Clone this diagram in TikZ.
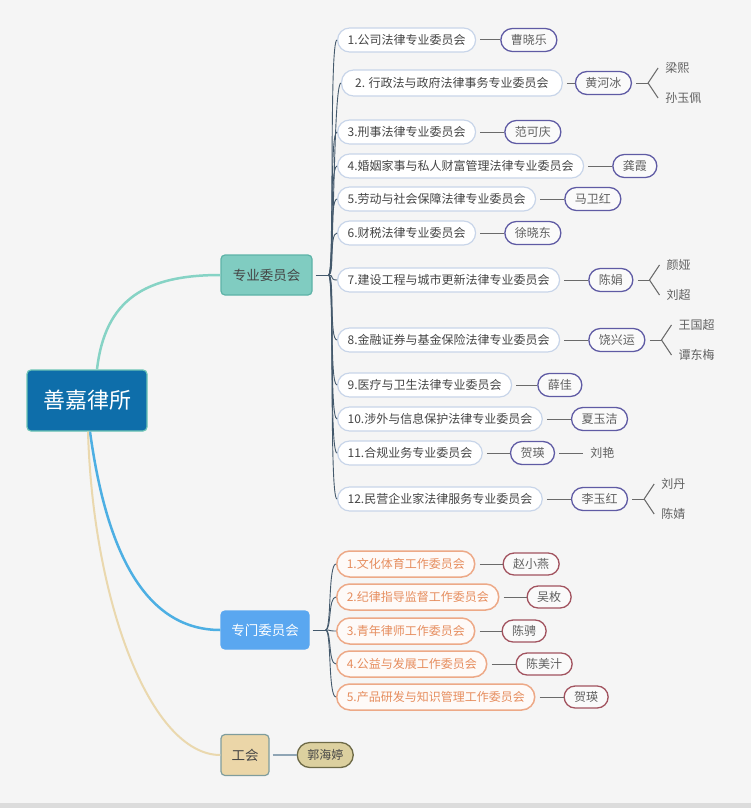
\documentclass[tikz,border=0pt]{standalone}
\usepackage{fontspec}
\setmainfont{Noto Sans CJK SC}
\usetikzlibrary{positioning, calc}
\definecolor{bgcol}{HTML}{F5F5F5}
\definecolor{stripcol}{HTML}{DCDCDC}
\definecolor{rootfill}{HTML}{0E6EAA}
\definecolor{rootedge}{HTML}{6CC4B5}
\definecolor{zyfill}{HTML}{80CCC1}
\definecolor{zyedge}{HTML}{5DB3A7}
\definecolor{zmfill}{HTML}{5AA7F0}
\definecolor{ghfill}{HTML}{EBD6A8}
\definecolor{ghedge}{HTML}{7F9D9D}
\definecolor{ghtfill}{HTML}{DCD09F}
\definecolor{ghtedge}{HTML}{6E6A47}
\definecolor{txt}{HTML}{454545}
\definecolor{comedge}{HTML}{C8D5E9}
\definecolor{peredge}{HTML}{5F5BA4}
\definecolor{orgedge}{HTML}{EDA987}
\definecolor{orgtext}{HTML}{E68D5E}
\definecolor{orgper}{HTML}{A2535F}
\definecolor{fanline}{HTML}{44596C}
\definecolor{linkline}{HTML}{6A6A6A}
\definecolor{ghline}{HTML}{8FA5B5}
\definecolor{tealline}{HTML}{86D3C5}
\definecolor{blueline}{HTML}{4DAFE3}
\definecolor{tanline}{HTML}{EAD8AE}
\tikzset{
	node distance = 28pt,
	root/.style = {
		rounded corners = 4pt,
		minimum width = 120pt,
		minimum height = 61pt,
		draw = rootedge,
		fill = rootfill,
		line width = 1.2pt,
		text = white,
		font = \fontsize{22}{26}\selectfont
	},
	major/.style = {
		rounded corners = 4pt,
		minimum height = 40pt,
		line width = 1.2pt,
		inner xsep = 4pt,
		text = txt,
		font = \fontsize{13.5}{16}\selectfont
	},
	committee/.style = {
		rounded corners = 12pt,
		minimum height = 24pt,
		inner xsep = 10pt,
		inner ysep = 0pt,
		draw = comedge,
		fill = white,
		line width = 1.2pt,
		text = txt,
		font = \fontsize{12}{14}\selectfont
	},
	person/.style = {
		rounded corners = 11.5pt,
		minimum height = 23pt,
		inner xsep = 10pt,
		inner ysep = 0pt,
		draw = peredge,
		fill = bgcol!50!white,
		line width = 1.3pt,
		text = txt!85!white,
		font = \fontsize{12}{14}\selectfont
	},
	wgroup/.style = {
		committee,
		rounded corners = 13pt,
		minimum height = 26pt,
		draw = orgedge,
		fill = orgedge!6!white,
		line width = 1.5pt,
		text = orgtext
	},
	wperson/.style = {
		person,
		rounded corners = 11pt,
		minimum height = 22pt,
		draw = orgper
	},
	leaf/.style = {
		inner xsep = 7pt,
		inner ysep = 1pt,
		text = txt!85!white,
		font = \fontsize{12}{14}\selectfont
	},
	fan/.style = {draw = fanline, line width = 0.9pt},
	link/.style = {draw = linkline, line width = 1pt, shorten <= 4pt}
}

\begin{document}
\begin{tikzpicture}[x=1pt, y=-1pt]
	\fill[bgcol] (0,0) rectangle (751,808);
	\fill[stripcol] (0,803) rectangle (751,808);
	\useasboundingbox (0,0) rectangle (751,808);

	\node[root] (R) at (87,400.5) {善嘉律所};
	\node[major, fill=zyfill, draw=zyedge, minimum width=91pt] (ZY) at (266.5,275) {专业委员会};
	\node[major, fill=zmfill, draw=zmfill, text=white, minimum width=88pt, minimum height=38pt] (ZM) at (265,630) {专门委员会};
	\node[major, fill=ghfill, draw=ghedge, minimum width=48pt, minimum height=41pt] (GH) at (245,755) {工会};
	\node[person, fill=ghtfill, draw=ghtedge, text=txt, minimum height=25pt, rounded corners=12.5pt, right=27pt of GH] (GHT) {郭海婷};

	\draw[tealline, line width=2.5pt] ([xshift=10pt]R.north) .. controls +(8,-70) and +(-75,0) .. (ZY.west);
	\draw[blueline, line width=2.5pt] ([xshift=3pt]R.south) .. controls +(15,110) and +(-80,0) .. (ZM.west);
	\draw[tanline, line width=2pt] ([xshift=1pt]R.south) .. controls +(5,170) and +(-70,0) .. (GH.west);
	\draw[ghline, line width=1.5pt, shorten <=3pt] (GH) -- (GHT);

	% professional committees
	\node[committee, anchor=west] (c1) at (337,40) {1.公司法律专业委员会};
	\node[committee, anchor=west, inner xsep=13.5pt, minimum height=26pt] (c2) at (341,83) {2. 行政法与政府法律事务专业委员会};
	\node[committee, anchor=west] (c3) at (337,132) {3.刑事法律专业委员会};
	\node[committee, anchor=west] (c4) at (337,166) {4.婚姻家事与私人财富管理法律专业委员会};
	\node[committee, anchor=west] (c5) at (337,199) {5.劳动与社会保障法律专业委员会};
	\node[committee, anchor=west] (c6) at (337,233) {6.财税法律专业委员会};
	\node[committee, anchor=west] (c7) at (337,280) {7.建设工程与城市更新法律专业委员会};
	\node[committee, anchor=west] (c8) at (337,340) {8.金融证券与基金保险法律专业委员会};
	\node[committee, anchor=west] (c9) at (337,385) {9.医疗与卫生法律专业委员会};
	\node[committee, anchor=west] (c10) at (337,419) {10.涉外与信息保护法律专业委员会};
	\node[committee, anchor=west] (c11) at (337,453) {11.合规业务专业委员会};
	\node[committee, anchor=west] (c12) at (337,499) {12.民营企业家法律服务专业委员会};

	\node[person, right=24pt of c1] (p1) {曹晓乐};
	\node[person, right=12pt of c2] (p2) {黄河冰};
	\node[person, right=of c3] (p3) {范可庆};
	\node[person, right=of c4] (p4) {龚霞};
	\node[person, right=of c5] (p5) {马卫红};
	\node[person, right=of c6] (p6) {徐晓东};
	\node[person, right=of c7] (p7) {陈娟};
	\node[person, right=of c8] (p8) {饶兴运};
	\node[person, right=25pt of c9] (p9) {薛佳};
	\node[person, right=of c10] (p10) {夏玉洁};
	\node[person, right=27pt of c11] (p11) {贺瑛};
	\node[person, right=of c12] (p12) {李玉红};

	\node[leaf, right=of p11] (l11) {刘艳};
	\foreach \i/\ta/\tb in {2/梁熙/孙玉佩, 7/颜娅/刘超, 8/王国超/谭东梅, 12/刘丹/陈婧} {
		\coordinate[right=16pt of p\i] (f\i);
		\node[leaf, anchor=west] (a\i) at ($(f\i)+(10,-15)$) {\ta};
		\node[leaf, anchor=west] (b\i) at ($(f\i)+(10,15)$) {\tb};
		\draw[link] (p\i) -- (f\i);
		\draw[link, shorten <=0pt] (f\i) -- (a\i.west);
		\draw[link, shorten <=0pt] (f\i) -- (b\i.west);
	}
	\draw[link] (p11) -- (l11);

	\coordinate[right=16pt of ZY] (hZY);
	\draw[fan, shorten <=3pt] (ZY) -- (hZY);
	\foreach \i in {1,...,12} {
		\draw[fan] (hZY) .. controls +(6,0) and +(-8,0) .. (c\i.west);
		\draw[link] (c\i) -- (p\i);
	}

	% working committees
	\node[wgroup, anchor=west] (o1) at (336,564) {1.文化体育工作委员会};
	\node[wgroup, anchor=west] (o2) at (336,597) {2.纪律指导监督工作委员会};
	\node[wgroup, anchor=west] (o3) at (336,631) {3.青年律师工作委员会};
	\node[wgroup, anchor=west] (o4) at (336,664) {4.公益与发展工作委员会};
	\node[wgroup, anchor=west] (o5) at (336,697) {5.产品研发与知识管理工作委员会};

	\node[wperson, right=27pt of o1] (q1) {赵小燕};
	\node[wperson, right=27pt of o2] (q2) {吴枚};
	\node[wperson, right=26pt of o3] (q3) {陈骋};
	\node[wperson, right=of o4] (q4) {陈美汁};
	\node[wperson, right=of o5] (q5) {贺瑛};

	\coordinate[right=16pt of ZM] (hZM);
	\draw[fan, shorten <=3pt] (ZM) -- (hZM);
	\foreach \i in {1,...,5} {
		\draw[fan] (hZM) .. controls +(6,0) and +(-8,0) .. (o\i.west);
		\draw[link] (o\i) -- (q\i);
	}
\end{tikzpicture}
\end{document}
